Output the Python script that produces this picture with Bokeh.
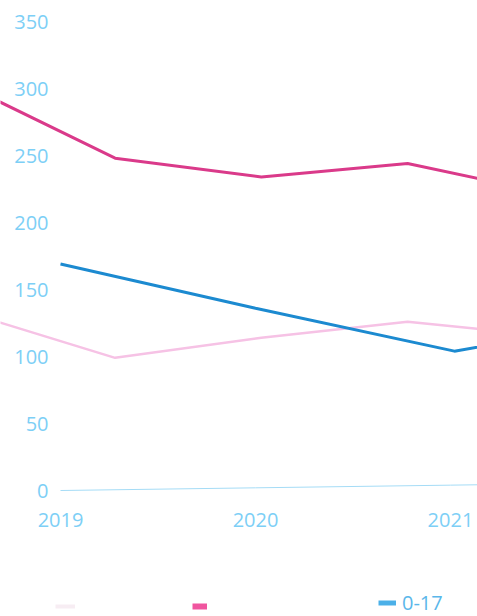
from bokeh.plotting import figure
from bokeh.layouts import column
from bokeh.models import FixedTicker, Legend, LegendItem, Range1d, ColumnDataSource
from bokeh.core.properties import value
from bokeh.embed import file_html
from bokeh.resources import INLINE

# ---- data ----
x_years = [2019, 2020, 2021]
x_labels = ["2019", "2020", "2021"]
y_ticks = [0, 50, 100, 150, 200, 250, 300, 350]

pink_x = [2018.52, 2019.28, 2020.03, 2020.78, 2021.53]
pink_y = [302, 248, 234, 244, 221]
lightpink_x = [2018.52, 2019.28, 2020.03, 2020.78, 2021.53]
lightpink_y = [133, 99, 114, 126, 115]
blue_x = [2019.0, 2020.0, 2021.02, 2022.0]
blue_y = [169, 136, 104, 128]
cyan_x = [2019.0, 2020.0, 2021.0, 2022.0]
cyan_y = [0, 2, 4, 6]
legend_labels = [" ", " ", "0-17"]

FONT = "Open Sans"
TICK_COLOR = "#7DCFF6"

x_start, x_end = 2018.6923, 2021.1385
y_start, y_end = -7.46, 365.7

p = figure(width=477, height=580, x_range=Range1d(x_start, x_end),
           y_range=Range1d(y_start, y_end), output_backend="svg",
           toolbar_location=None, y_axis_location=None,
           min_border_left=0, min_border_right=0, min_border_top=0,
           min_border_bottom=80)
p.outline_line_color = None
p.xgrid.visible = False
p.ygrid.visible = False
p.background_fill_color = "white"
p.border_fill_color = "white"

ax = p.xaxis[0]
ax.ticker = FixedTicker(ticks=x_years)
ax.major_label_overrides = {y: l for y, l in zip(x_years, x_labels)}
ax.axis_line_color = None
ax.major_tick_line_color = None
ax.minor_tick_line_color = None
ax.major_tick_out = 0
ax.major_tick_in = 0
ax.major_label_standoff = 12
ax.major_label_text_font = FONT
ax.major_label_text_font_size = "20px"
ax.major_label_text_color = TICK_COLOR

# series
p.line(lightpink_x, lightpink_y, line_color="#F6C2E5", line_width=2.5)
p.line(pink_x, pink_y, line_color="#DA3A8A", line_width=3)
p.line(blue_x, blue_y, line_color="#1C8AD0", line_width=3)
p.line(cyan_x, cyan_y, line_color="#A5DCF6", line_width=1)

# y tick labels inside the plot area
src = ColumnDataSource(dict(x=[x_start] * len(y_ticks), y=y_ticks,
                            t=[str(v) for v in y_ticks]))
p.text(x="x", y="y", text="t", source=src, x_offset=48,
       text_align="right", text_baseline="middle",
       text_font=value(FONT), text_font_size="20px", text_color=TICK_COLOR)

# ---- legend strip ----
lg_fig = figure(width=477, height=36, x_range=Range1d(0, 1), y_range=Range1d(0, 1),
                output_backend="svg", toolbar_location=None,
                x_axis_location=None, y_axis_location=None,
                min_border=0, min_border_left=0, min_border_right=0,
                min_border_top=0, min_border_bottom=0)
lg_fig.outline_line_color = None
lg_fig.xgrid.visible = False
lg_fig.ygrid.visible = False

nan = float("nan")
r1 = lg_fig.line([nan], [nan], line_color="#F7EDF3", line_width=4)
r2 = lg_fig.line([nan], [nan], line_color="#F0559F", line_width=6)
r3 = lg_fig.line([nan], [nan], line_color="#4BB0E8", line_width=5)

specs = [
    (r1, legend_labels[0], (55, 0), 20, 20, "10px"),
    (r2, legend_labels[1], (192, 0), 15, 20, "10px"),
    (r3, legend_labels[2], (378, 0), 18, 27, "20px"),
]
for r, lab, loc, gw, gh, fs in specs:
    lg = Legend(items=[LegendItem(label=lab, renderers=[r])], location=loc,
                orientation="horizontal", padding=0, margin=0, spacing=0,
                border_line_alpha=0, background_fill_alpha=0,
                glyph_width=gw, glyph_height=gh, label_height=gh,
                label_standoff=6, label_text_font=FONT,
                label_text_font_size=fs, label_text_color="#5AB7EA")
    lg_fig.add_layout(lg, "center")

layout = column(p, lg_fig)
open("out.html", "w").write(file_html(layout, INLINE))
